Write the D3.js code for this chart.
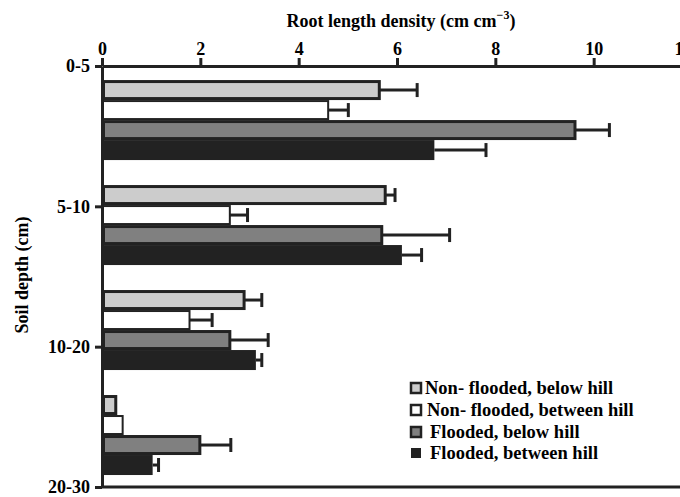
<!DOCTYPE html>
<html><head><meta charset="utf-8">
<script src="https://cdn.jsdelivr.net/npm/d3@7"></script>
<style>body{margin:0;background:#fff}svg{display:block}svg text{font-family:"Liberation Serif","DejaVu Serif",serif !important;}</style></head>
<body><svg id="c" width="680" height="497"></svg>
<script>
const depths = ["0-5","5-10","10-20","20-30"];
const series = ["Non- flooded, below hill","Non- flooded, between hill","Flooded, below hill","Flooded, between hill"];
const nonFloodedBelow = [5.64,5.76,2.89,0.28];
const nonFloodedBelowErr = [0.77,0.20,0.36,0];
const nonFloodedBetween = [4.60,2.60,1.78,0.42];
const nonFloodedBetweenErr = [0.41,0.36,0.46,0];
const floodedBelow = [9.62,5.69,2.60,1.99];
const floodedBelowErr = [0.70,1.38,0.78,0.63];
const floodedBetween = [6.76,6.10,3.13,1.03];
const floodedBetweenErr = [1.05,0.40,0.12,0.12];
const xTicks = [0,2,4,6,8,10,12];

const values = [nonFloodedBelow,nonFloodedBetween,floodedBelow,floodedBetween];
const errors = [nonFloodedBelowErr,nonFloodedBetweenErr,floodedBelowErr,floodedBetweenErr];
const fills = ["#cccccc","#ffffff","#808080","#222222"];
const strokeW = [3,2,3,0];
const ink = "#222";

const svg = d3.select("#c");
const x = d3.scaleLinear([0,12],[102,692]);
const yTick = d3.scalePoint(depths,[66,487]);
const yBand = d3.scaleBand(depths,[66,487]).paddingInner(0.238).paddingOuter(0.124).align(0.54);
const ySub = d3.scaleBand(series,[0,yBand.bandwidth()]);

const rows = [];
depths.forEach((d,i)=>series.forEach((s,j)=>rows.push({d,s,j,v:values[j][i],e:errors[j][i]})));

const g = svg.append("g");
g.selectAll("rect.bar").data(rows).join("rect").attr("class","bar")
  .attr("x", r => x(0) + strokeW[r.j]/2)
  .attr("y", r => yBand(r.d) + ySub(r.s) + strokeW[r.j]/2)
  .attr("width", r => Math.max(0, x(r.v) - x(0) - strokeW[r.j]/2))
  .attr("height", r => ySub.bandwidth() - strokeW[r.j])
  .attr("fill", r => fills[r.j])
  .attr("stroke", ink).attr("stroke-width", r => strokeW[r.j]);

const eb = rows.filter(r => r.e > 0);
const cy = r => yBand(r.d) + ySub(r.s) + ySub.bandwidth()/2;
g.selectAll("line.whisk").data(eb).join("line").attr("class","whisk")
  .attr("x1", r => x(r.v)).attr("x2", r => x(r.v + r.e))
  .attr("y1", cy).attr("y2", cy)
  .attr("stroke", ink).attr("stroke-width", 3);
g.selectAll("line.cap").data(eb).join("line").attr("class","cap")
  .attr("x1", r => x(r.v + r.e)).attr("x2", r => x(r.v + r.e))
  .attr("y1", r => cy(r) - 7).attr("y2", r => cy(r) + 7)
  .attr("stroke", ink).attr("stroke-width", 3);

// axes
const ax = svg.append("g").attr("transform","translate(0,66)")
  .call(d3.axisTop(x).tickValues(xTicks).tickFormat(d3.format("d")).tickSize(8).tickSizeOuter(0).tickPadding(3));
const ay = svg.append("g").attr("transform","translate(102,0)")
  .call(d3.axisLeft(yTick).tickSize(7).tickSizeOuter(0).tickPadding(5));
[ax,ay].forEach(a=>{
  a.select(".domain").attr("stroke",ink).attr("stroke-width",3);
  a.selectAll(".tick line").attr("stroke",ink).attr("stroke-width",3);
  a.selectAll("text").attr("fill","#000").attr("font-weight","bold").attr("font-size",18);
});
ax.selectAll(".tick text").filter(d => d === 12).attr("dx", -9);
svg.append("line").attr("x1",x(0)).attr("x2",x(12)).attr("y1",487).attr("y2",487)
  .attr("stroke",ink).attr("stroke-width",3);

// titles
const t = svg.append("text").attr("x",401).attr("y",27).attr("text-anchor","middle")
  .attr("font-weight","bold").attr("font-size",18);
t.append("tspan").text("Root length density (cm cm");
t.append("tspan").attr("dy",-8).attr("font-size",12).text("\u22123");
t.append("tspan").attr("dy",8).text(")");
svg.append("text").attr("transform","translate(28,275) rotate(-90)").attr("text-anchor","middle")
  .attr("font-weight","bold").attr("font-size",18).text("Soil depth (cm)");

// legend
const ly = [388,410,432,453];
const lg = svg.append("g").selectAll("g").data(series).join("g")
  .attr("transform",(s,i)=>`translate(410,${ly[i]})`);
lg.append("rect").attr("x",1).attr("y",-5).attr("width",10).attr("height",10)
  .attr("fill",(s,i)=>fills[i]).attr("stroke",ink).attr("stroke-width",(s,i)=>i===3?0:2.5);
lg.append("text").attr("x",(s,i)=>[15,17,20,20][i]).attr("y",6)
  .attr("font-weight","bold").attr("font-size",18.5).text(s=>s);
</script></body></html>
